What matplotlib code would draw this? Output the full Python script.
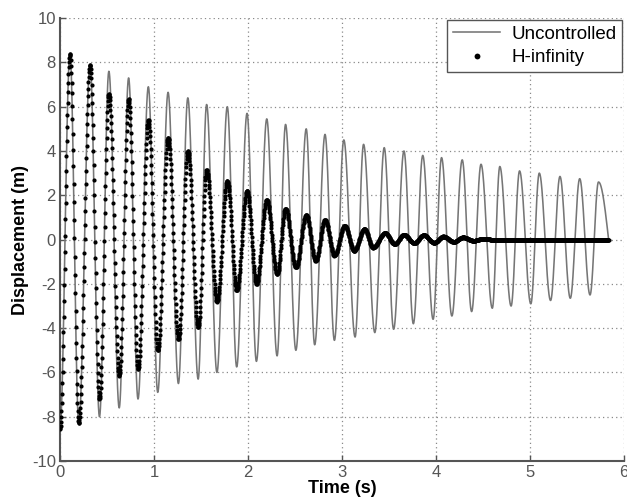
"""
Uncontrolled vs H-infinity controlled displacement response.
"""
import numpy as np
import matplotlib.pyplot as plt

# extrema of the uncontrolled response (time s, displacement m)
unc_t = [0.00, 0.106, 0.20, 0.32, 0.42, 0.52, 0.63, 0.73, 0.83, 0.94, 1.04,
         1.15, 1.26, 1.36, 1.47, 1.56, 1.67, 1.78, 1.88, 1.99, 2.09, 2.20,
         2.31, 2.40, 2.51, 2.62, 2.71, 2.82, 2.92, 3.02, 3.14, 3.23, 3.35,
         3.45, 3.55, 3.66, 3.76, 3.86, 3.97, 4.06, 4.17, 4.28, 4.38, 4.48,
         4.60, 4.68, 4.80, 4.89, 5.01, 5.10, 5.22, 5.32, 5.43, 5.53, 5.64,
         5.73, 5.94]
unc_v = [-8.5, 8.4, -8.3, 7.9, -8.0, 7.6, -7.6, 7.3, -7.2, 6.9, -6.9,
         6.65, -6.5, 6.4, -6.3, 6.1, -6.0, 6.0, -5.75, 5.7, -5.5, 5.45,
         -5.25, 5.2, -5.0, 5.0, -4.75, 4.75, -4.55, 4.5, -4.4, 4.3, -4.2,
         4.15, -4.05, 4.0, -3.8, 3.8, -3.6, 3.7, -3.45, 3.6, -3.25, 3.4,
         -3.1, 3.3, -3.0, 3.1, -2.9, 3.0, -2.75, 2.85, -2.65, 2.75, -2.5,
         2.6, -2.4]

# extrema of the H-infinity controlled response
hinf_t = [0.00, 0.106, 0.20, 0.32, 0.42, 0.52, 0.63, 0.73, 0.83, 0.94, 1.04,
          1.15, 1.26, 1.36, 1.47, 1.56, 1.67, 1.78, 1.88, 1.99, 2.09, 2.20,
          2.31, 2.40, 2.51, 2.62, 2.72, 2.82, 2.92, 3.03, 3.13, 3.24, 3.33,
          3.46, 3.56, 3.66, 3.77, 3.87, 3.98, 4.08, 4.19, 4.29, 4.40, 4.50,
          4.60, 5.84]
hinf_v = [-8.55, 8.4, -8.3, 7.9, -7.2, 6.6, -6.15, 6.35, -5.85, 5.4, -5.0,
          4.6, -4.5, 4.0, -3.95, 3.15, -2.8, 2.65, -2.3, 2.2, -2.0, 1.8,
          -1.55, 1.4, -1.25, 1.1, -0.95, 0.88, -0.72, 0.63, -0.5, 0.48, -0.36,
          0.3, -0.2, 0.22, -0.16, 0.2, -0.14, 0.14, -0.1, 0.1, -0.05, 0.03,
          0.0, 0.0]

t_end = 5.84


def trace(tk, vk, t):
    """half-cosine segments between consecutive extrema"""
    tk = np.asarray(tk)
    vk = np.asarray(vk)
    i = np.clip(np.searchsorted(tk, t, side='right') - 1, 0, len(tk) - 2)
    s = (t - tk[i]) / (tk[i + 1] - tk[i])
    return vk[i] + (vk[i + 1] - vk[i]) * (1 - np.cos(np.pi * s)) / 2


t_line = np.arange(0, t_end, 0.001)
t_dots = np.arange(0, t_end, 0.003)
y_unc = trace(unc_t, unc_v, t_line)
y_hinf = trace(hinf_t, hinf_v, t_dots)

plt.rcParams['font.family'] = ['Liberation Sans', 'DejaVu Sans']
plt.rcParams['axes.unicode_minus'] = False

fig = plt.figure(figsize=(6.27, 5.04), dpi=100)
ax = fig.add_axes([0.0957, 0.0853, 0.8993, 0.8787])

ax.plot(t_line, y_unc, color='#767676', linewidth=1.15, label='Uncontrolled', zorder=2)
ax.plot(t_dots, y_hinf, linestyle='none', marker='o', markersize=3.0,
        markerfacecolor='black', markeredgecolor='black', markeredgewidth=0,
        label='H-infinity', zorder=3)

ax.set_xlim(0, 6)
ax.set_ylim(-10, 10)
ax.set_xticks(range(0, 7))
ax.set_yticks(range(-10, 11, 2))
ax.grid(True, linestyle=(0, (1, 2.5)), color='#8a8a8a', linewidth=0.9)

for side in ('top', 'right'):
    ax.spines[side].set_visible(False)
for side in ('left', 'bottom'):
    ax.spines[side].set_color('#555555')
    ax.spines[side].set_linewidth(1.5)
ax.tick_params(direction='in', length=4, width=1, color='#555555',
               labelcolor='#555555', labelsize=12, pad=3)

ax.set_xlabel('Time (s)', fontsize=13, fontweight='bold', labelpad=0)
ax.set_ylabel('Displacement (m)', fontsize=13, fontweight='bold', labelpad=2)

leg = ax.legend(loc='upper right', fontsize=13.5, frameon=True, fancybox=False,
                edgecolor='#555555', framealpha=1, borderaxespad=0.1,
                handlelength=2.5, markerscale=1.4, borderpad=0.3,
                labelspacing=0.35, handletextpad=0.6)
leg.get_frame().set_linewidth(1.0)

fig.savefig('out.png', dpi=100)
